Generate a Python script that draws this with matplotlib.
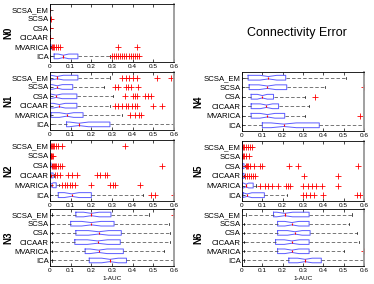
import matplotlib
matplotlib.use("Agg")
import matplotlib.pyplot as plt
import numpy as np

plt.rcParams['font.family'] = ['Liberation Sans', 'DejaVu Sans']

methods = ["SCSA_EM", "SCSA", "CSA", "CICAAR", "MVARICA", "ICA"]
panel_names = ["N0", "N1", "N2", "N3", "N4", "N5", "N6"]

# [whisker low, q1, median, q3, whisker high] per method
n0_box = [[0, 0, 0, 0, 0.001], [0, 0, 0, 0, 0], [0, 0, 0, 0, 0], [0, 0, 0, 0, 0],
          [0, 0, 0.002, 0.005, 0.007], [0, 0.02, 0.065, 0.135, 0.29]]
n0_out = [[], [0.003], [0.002], [0.002],
          [0.01, 0.015, 0.02, 0.03, 0.04, 0.05, 0.33, 0.42],
          [0.30, 0.31, 0.32, 0.33, 0.34, 0.35, 0.36, 0.37, 0.38, 0.39, 0.40, 0.41, 0.42, 0.43]]

n1_box = [[0, 0, 0.035, 0.135, 0.29], [0, 0, 0.035, 0.11, 0.26], [0, 0, 0.03, 0.13, 0.306],
          [0, 0, 0.045, 0.13, 0.29], [0, 0.005, 0.08, 0.16, 0.35], [0, 0.08, 0.14, 0.29, 0.6]]
n1_out = [[0.347, 0.368, 0.384, 0.40, 0.419, 0.516, 0.585],
          [0.315, 0.33, 0.368, 0.379, 0.392, 0.427],
          [0.363, 0.403, 0.411, 0.419, 0.46, 0.476, 0.49],
          [0.315, 0.33, 0.347, 0.368, 0.379, 0.395, 0.411, 0.419, 0.50, 0.54],
          [0.387, 0.41, 0.43, 0.44],
          []]

n2_box = [[0, 0, 0, 0, 0.002], [0, 0, 0, 0, 0.001], [0, 0, 0.001, 0.005, 0.008],
          [0, 0, 0.003, 0.015, 0.02], [0, 0, 0.008, 0.03, 0.045], [0, 0.04, 0.105, 0.2, 0.45]]
n2_out = [[0.005, 0.01, 0.015, 0.02, 0.03, 0.04, 0.06, 0.363],
          [0.003, 0.006, 0.01, 0.015],
          [0.01, 0.015, 0.02, 0.025, 0.03, 0.04, 0.05, 0.06, 0.54],
          [0.025, 0.035, 0.048, 0.089, 0.105, 0.129, 0.226, 0.242, 0.266, 0.274],
          [0.056, 0.073, 0.081, 0.097, 0.105, 0.121, 0.2, 0.29, 0.306, 0.315, 0.435],
          [0.49, 0.51, 0.6]]

n3_box = [[0.01, 0.125, 0.2, 0.295, 0.48], [0.0, 0.1, 0.2, 0.31, 0.577], [0.01, 0.125, 0.235, 0.345, 0.58],
          [0.01, 0.12, 0.23, 0.34, 0.58], [0.01, 0.17, 0.235, 0.355, 0.55], [0.01, 0.19, 0.29, 0.37, 0.6]]
n3_out = [[0.6], [], [], [], [], []]

n4_box = [[0, 0.03, 0.13, 0.215, 0.51], [0, 0.035, 0.125, 0.22, 0.41], [0, 0.045, 0.1, 0.155, 0.31],
          [0, 0.045, 0.12, 0.18, 0.33], [0, 0.045, 0.125, 0.21, 0.31], [0, 0.1, 0.205, 0.38, 0.6]]
n4_out = [[], [0.6], [0.357], [], [0.578], []]

n5_box = [[0, 0, 0, 0, 0.002], [0, 0, 0, 0, 0.001], [0, 0, 0.002, 0.01, 0.015],
          [0, 0, 0.002, 0.01, 0.012], [0, 0, 0.02, 0.055, 0.07], [0, 0.005, 0.025, 0.11, 0.22]]
n5_out = [[0.005, 0.01, 0.02, 0.03, 0.04, 0.05],
          [0.003, 0.01, 0.02, 0.035],
          [0.02, 0.025, 0.03, 0.04, 0.06, 0.09, 0.1, 0.231, 0.275, 0.57],
          [0.015, 0.025, 0.035, 0.045, 0.055, 0.065, 0.307, 0.47],
          [0.089, 0.113, 0.129, 0.146, 0.178, 0.218, 0.227, 0.235, 0.299, 0.324, 0.345, 0.364, 0.393, 0.474],
          [0.299, 0.316, 0.332, 0.356, 0.396, 0.566, 0.578]]

n6_box = [[0.02, 0.155, 0.21, 0.33, 0.54], [0.01, 0.175, 0.245, 0.33, 0.526], [0.01, 0.175, 0.26, 0.335, 0.566],
          [0.01, 0.165, 0.245, 0.33, 0.575], [0.01, 0.175, 0.245, 0.33, 0.5], [0.01, 0.23, 0.31, 0.39, 0.6]]
n6_out = [[], [], [], [], [0.6], []]

all_box = [n0_box, n1_box, n2_box, n3_box, n4_box, n5_box, n6_box]
all_out = [n0_out, n1_out, n2_out, n3_out, n4_out, n5_out, n6_out]

n_runs = 50

W, H = 374.0, 284.0
fig = plt.figure(figsize=(3.74, 2.84), dpi=100)

# axes rectangles in pixels: (left, top, right, bottom)
rects = [(50, 4, 174, 62), (50, 72, 174, 130), (50, 140, 174, 201), (50, 209, 174, 266),
         (242, 72, 364, 131), (242, 141, 364, 201), (242, 209, 364, 266)]
# right edge of the rotated panel label, in pixels
label_x = [13, 13, 13, 13, 203, 203, 203]

for k in range(7):
    l, t, r, b = rects[k]
    ax = fig.add_axes([l / W, 1 - b / H, (r - l) / W, (b - t) / H])
    stats = []
    for i in range(6):
        wlo, q1, med, q3, whi = all_box[k][i]
        half = 1.57 * (q3 - q1) / np.sqrt(n_runs)
        stats.append(dict(med=med, q1=q1, q3=q3, whislo=wlo, whishi=whi,
                          fliers=np.array(all_out[k][i]),
                          cilo=max(med - half, q1), cihi=min(med + half, q3)))
    ax.bxp(stats, positions=np.arange(1, 7), vert=False, widths=0.5, shownotches=True,
           capwidths=0.25,
           boxprops=dict(color='#5c5cff', linewidth=0.7),
           medianprops=dict(color='red', linewidth=0.8),
           whiskerprops=dict(color='0.25', linewidth=0.5, linestyle=(0, (5, 3))),
           capprops=dict(color='black', linewidth=0.5),
           flierprops=dict(marker='+', markeredgecolor='red', markersize=4, markeredgewidth=0.6))
    ax.set_xlim(0, 0.6)
    ax.set_ylim(6.6, 0.4)
    ax.set_yticks(np.arange(1, 7))
    ax.set_yticklabels(methods, fontsize=5.6)
    ax.set_xticks([0, 0.1, 0.2, 0.3, 0.4, 0.5, 0.6])
    ax.set_xticklabels(["0", "0.1", "0.2", "0.3", "0.4", "0.5", "0.6"])
    ax.tick_params(axis='x', direction='in', top=True, length=2, width=0.5, labelsize=4.6, pad=1.2)
    ax.tick_params(axis='y', direction='in', length=2, width=0.5, pad=1)
    for s in ax.spines.values():
        s.set_linewidth(0.6)
    ax.spines['right'].set_color('0.6')
    ax.spines['right'].set_linewidth(1.3)
    ax.set_ylabel(panel_names[k], fontsize=7, fontweight='bold')
    ax.yaxis.set_label_coords((label_x[k] - l) / (r - l), 0.5)
    if k == 3 or k == 6:
        ax.set_xlabel("1-AUC", fontsize=4.6)
        ax.xaxis.set_label_coords(0.5, -(276 - b) / (b - t))

fig.text(297 / W, 1 - 33 / H, "Connectivity Error", fontsize=9, ha='center', va='center')

fig.savefig("out.png", dpi=100)
